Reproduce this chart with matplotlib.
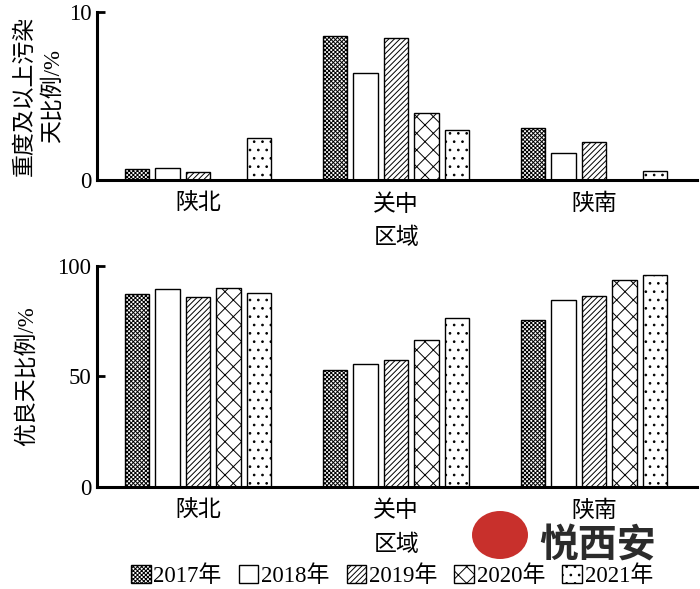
import matplotlib
matplotlib.use("Agg")
import matplotlib.pyplot as plt
import numpy as np
from matplotlib.patches import Patch, Ellipse

plt.rcParams['font.family'] = ['Liberation Serif', 'Noto Sans CJK SC', 'DejaVu Sans']
plt.rcParams['hatch.linewidth'] = 0.7

regions = ['陕北', '关中', '陕南']
years = ['2017年', '2018年', '2019年', '2020年', '2021年']
heavy_2017 = [0.65, 8.6, 3.1]
heavy_2018 = [0.7, 6.35, 1.6]
heavy_2019 = [0.45, 8.45, 2.25]
heavy_2020 = [0.0, 4.0, 0.0]
heavy_2021 = [2.5, 3.0, 0.55]
good_2017 = [87.3, 52.9, 75.7]
good_2018 = [89.6, 55.5, 84.5]
good_2019 = [86.0, 57.5, 86.4]
good_2020 = [90.0, 66.5, 93.8]
good_2021 = [87.8, 76.5, 95.8]

heavy = [heavy_2017, heavy_2018, heavy_2019, heavy_2020, heavy_2021]
good = [good_2017, good_2018, good_2019, good_2020, good_2021]
hatches = ['xxxxxxxx', '', '//////', 'xx', '..']

fig = plt.figure(figsize=(7.0, 5.89), dpi=100)
ax1 = fig.add_axes([0.1386, 0.6944, 0.857, 0.2852])
ax2 = fig.add_axes([0.1386, 0.1732, 0.857, 0.3752])

x = np.arange(len(regions))
step = 0.154
width = 0.122
FS = 16.5

def draw(ax, data, ylim, yticks):
    for i, vals in enumerate(data):
        pos = x + (i - 2) * step
        v = np.array(vals)
        mask = v > 0
        ax.bar(pos[mask], v[mask], width=width, facecolor='white', edgecolor='black',
               linewidth=1.0, hatch=hatches[i], zorder=2)
    ax.set_xlim(-0.51, 2.52)
    ax.set_ylim(*ylim)
    ax.set_yticks(yticks)
    ax.set_xticks(x)
    ax.set_xticklabels(regions, fontsize=FS)
    ax.tick_params(axis='x', length=0, pad=10)
    ax.tick_params(axis='y', direction='in', length=6, width=2, labelsize=FS, pad=4)
    for s in ['top', 'right']:
        ax.spines[s].set_visible(False)
    for s in ['left', 'bottom']:
        ax.spines[s].set_linewidth(2.2)
    ax.set_xlabel('区域', fontsize=FS, labelpad=9)

draw(ax1, heavy, (0, 10), [0, 10])
draw(ax2, good, (0, 100), [0, 50, 100])
ax1.set_ylabel('重度及以上污染\n天比例/%', fontsize=FS, linespacing=1.35, labelpad=4)
ax2.set_ylabel('优良天比例/%', fontsize=FS, labelpad=14)

handles = [Patch(facecolor='white', edgecolor='black', hatch=h, linewidth=1.0) for h in hatches]
fig.legend(handles, years, loc='center', bbox_to_anchor=(0.56, 0.022), ncol=5,
           frameon=False, fontsize=FS, handlelength=0.85, handleheight=0.85,
           handletextpad=0.12, columnspacing=0.75, borderpad=0)

# watermark
circ = Ellipse((500 / 700, 1 - 535 / 589), 56 / 700, 48 / 589, transform=fig.transFigure,
               facecolor='#c8302c', edgecolor='none', zorder=5)
fig.patches.append(circ)
fig.text(598 / 700, 1 - 546 / 589, '悦西安', family=['Noto Sans CJK SC'], fontweight='heavy',
         fontsize=28, color='#2b2b2b', ha='center', va='center', zorder=6)

fig.savefig('out.png', dpi=100)
